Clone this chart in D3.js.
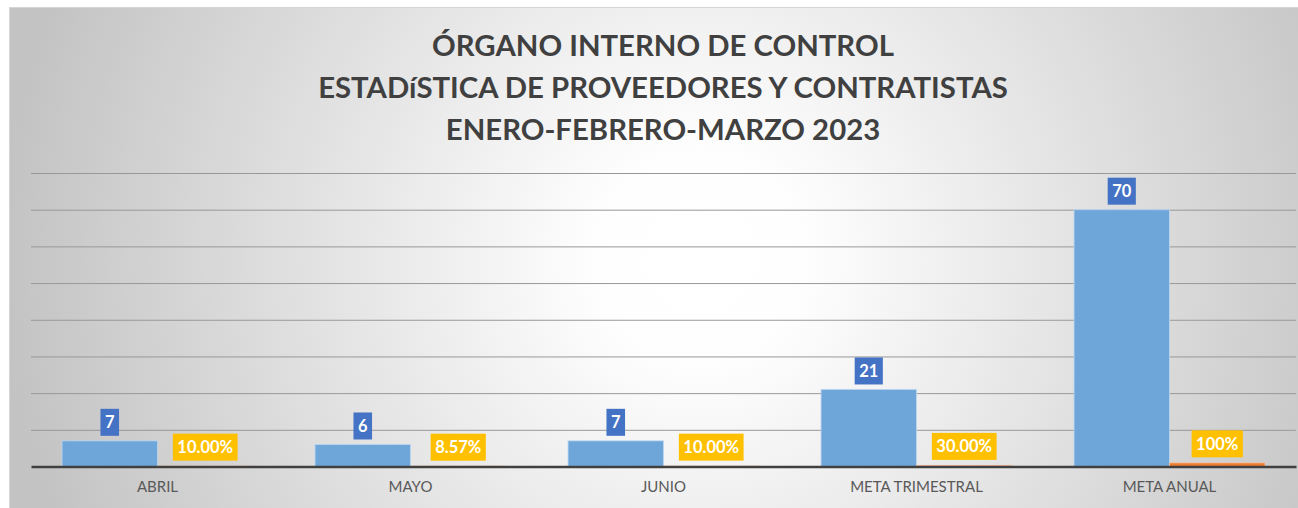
<!DOCTYPE html>
<html>
<head>
<meta charset="utf-8">
<script src="https://cdn.jsdelivr.net/npm/d3@7"></script>
<style>
  html, body { margin: 0; padding: 0; background: #ffffff; }
  svg { display: block; }
</style>
</head>
<body>
<svg id="chart" width="1298" height="508"></svg>
<script>
// ---- data ----
const titleLines = ["ÓRGANO INTERNO DE CONTROL", "ESTADíSTICA DE PROVEEDORES Y CONTRATISTAS", "ENERO-FEBRERO-MARZO 2023"];
const categories = ["ABRIL", "MAYO", "JUNIO", "META TRIMESTRAL", "META ANUAL"];
const seriesNames = ["Cantidad", "Porcentaje"];
const cantidad = [7, 6, 7, 21, 70];
const porcentaje = [0.10, 0.0857, 0.10, 0.30, 1];
const porcentajeLabels = ["10.00%", "8.57%", "10.00%", "30.00%", "100%"];
const yTicks = [0, 10, 20, 30, 40, 50, 60, 70, 80];

// ---- layout ----
const W = 1298, H = 508;
const plot = { left: 31, right: 1296, top: 173, bottom: 466.5 };
const svg = d3.select("#chart");
const FONT = "Lato, 'Open Sans', sans-serif";

// background gradient
const defs = svg.append("defs");
const grad = defs.append("radialGradient")
  .attr("id", "bg").attr("gradientUnits", "userSpaceOnUse")
  .attr("cx", 700).attr("cy", 257).attr("r", 700);
grad.append("stop").attr("offset", 0).attr("stop-color", "#ffffff");
grad.append("stop").attr("offset", 0.15).attr("stop-color", "#fefefe");
grad.append("stop").attr("offset", 1).attr("stop-color", "#c3c3c3");

svg.append("rect").attr("x", 9.5).attr("y", 7.5).attr("width", W).attr("height", H)
  .attr("fill", "url(#bg)").attr("stroke", "#d4d4d4").attr("stroke-width", 1);

// scales
const x0 = d3.scaleBand().domain(categories).range([plot.left, plot.right]).paddingInner(0).paddingOuter(0);
const x1 = d3.scaleBand().domain(seriesNames).range([0, x0.bandwidth()]).paddingInner(0).paddingOuter(0.325);
const y = d3.scaleLinear().domain([0, 80]).range([plot.bottom, plot.top]);

// gridlines via axis
const yAxis = d3.axisLeft(y).tickValues(yTicks.filter(d => d > 0)).tickSize(-(plot.right - plot.left)).tickFormat("");
const gGrid = svg.append("g").attr("transform", `translate(${plot.left},0)`).call(yAxis);
gGrid.select(".domain").remove();
gGrid.selectAll(".tick line").attr("stroke", "#989898").attr("stroke-width", 1);

// bars
const colors = { Cantidad: "#6fa6d9", Porcentaje: "#ed7d31" };
const groups = svg.append("g").selectAll("g").data(categories).join("g")
  .attr("transform", d => `translate(${x0(d)},0)`);

groups.append("rect")
  .attr("x", x1("Cantidad")).attr("width", x1.bandwidth())
  .attr("y", (d, i) => y(cantidad[i])).attr("height", (d, i) => y(0) - y(cantidad[i]))
  .attr("fill", colors.Cantidad).attr("stroke", "rgba(190,215,240,0.8)").attr("stroke-width", 1);

groups.append("rect")
  .attr("x", x1("Porcentaje")).attr("width", x1.bandwidth())
  .attr("y", (d, i) => y(porcentaje[i])).attr("height", (d, i) => y(0) - y(porcentaje[i]))
  .attr("fill", colors.Porcentaje).attr("stroke", "rgba(250,200,170,0.7)").attr("stroke-width", 1);

// x axis
const xAxis = d3.axisBottom(x0).tickSize(0).tickPadding(15);
const gX = svg.append("g").attr("transform", `translate(0,${plot.bottom})`).call(xAxis);
gX.select(".domain").attr("stroke", "#404040").attr("stroke-width", 2.5);
gX.selectAll(".tick text").attr("font-family", FONT).attr("font-size", 15).attr("fill", "#595959");

// data labels
function labelBox(g, cx, bottom, text, fill) {
  const lab = g.append("g");
  const t = lab.append("text").attr("font-family", FONT).attr("font-weight", 700)
    .attr("font-size", 16.5).attr("fill", "#ffffff").attr("text-anchor", "middle").text(text);
  const w = t.node().getComputedTextLength() + 9;
  const h = 27;
  lab.insert("rect", "text").attr("x", cx - w / 2).attr("y", bottom - h).attr("width", w).attr("height", h).attr("fill", fill);
  t.attr("x", cx).attr("y", bottom - h / 2 + 6);
}
const gLabels = svg.append("g");
categories.forEach((c, i) => {
  labelBox(gLabels, x0(c) + x1("Cantidad") + x1.bandwidth() / 2, y(cantidad[i]) - 5, String(cantidad[i]), "#4472c4");
  labelBox(gLabels, x0(c) + x1("Porcentaje") + x1.bandwidth() / 2, y(porcentaje[i]) - 5.5, porcentajeLabels[i], "#ffc000");
});

// title
const gTitle = svg.append("g");
const baselines = [55.5, 98, 140];
const tTexts = gTitle.selectAll("text").data(titleLines).join("text")
  .attr("x", 663).attr("y", (d, i) => baselines[i])
  .attr("text-anchor", "middle").attr("font-family", FONT).attr("font-weight", 700)
  .attr("font-size", 100).attr("fill", "#404040").text(d => d);
const measured = tTexts.nodes()[1].getComputedTextLength();
tTexts.attr("font-size", 100 * 690 / measured);
</script>
</body>
</html>
